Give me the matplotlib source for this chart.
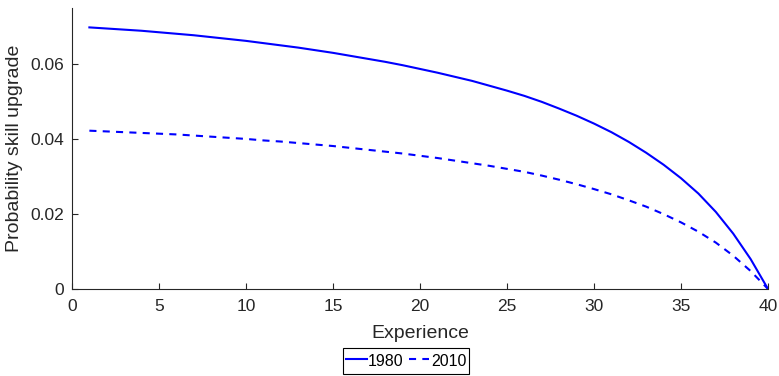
import matplotlib.pyplot as plt

plt.rcParams['font.family'] = ['Liberation Sans', 'DejaVu Sans']

experience = list(range(1, 41))
prob_1980 = [0.0699, 0.0696, 0.0693, 0.0690, 0.0686, 0.0682, 0.0678, 0.0673, 0.0668, 0.0663,
             0.0657, 0.0651, 0.0645, 0.0638, 0.0631, 0.0623, 0.0615, 0.0607, 0.0598, 0.0588,
             0.0578, 0.0567, 0.0556, 0.0543, 0.0530, 0.0516, 0.0500, 0.0482, 0.0463, 0.0442,
             0.0419, 0.0393, 0.0364, 0.0332, 0.0296, 0.0255, 0.0206, 0.0148, 0.0080, 0.0]
prob_2010 = [0.0423, 0.0421, 0.0419, 0.0417, 0.0415, 0.0413, 0.0410, 0.0407, 0.0404, 0.0401,
             0.0397, 0.0394, 0.0390, 0.0386, 0.0382, 0.0377, 0.0372, 0.0367, 0.0362, 0.0356,
             0.0350, 0.0343, 0.0336, 0.0329, 0.0321, 0.0313, 0.0303, 0.0292, 0.0280, 0.0267,
             0.0253, 0.0237, 0.0220, 0.0200, 0.0178, 0.0153, 0.0124, 0.0089, 0.0048, 0.0]

xticks = [0, 5, 10, 15, 20, 25, 30, 35, 40]
yticks = [0, 0.02, 0.04, 0.06]
ytick_labels = ['0', '0.02', '0.04', '0.06']

dark = '#262626'

fig = plt.figure(figsize=(7.79, 3.76), dpi=100)
ax = fig.add_axes([0.0924, 0.2314, 0.8935, 0.7465])

ax.plot(experience, prob_1980, color='#0000ff', lw=1.5, label='1980')
ax.plot(experience, prob_2010, color='#0000ff', lw=1.5, dashes=(3.4, 3.0), label='2010')

ax.set_xlim(0, 40)
ax.set_ylim(0, 0.075)
ax.set_xticks(xticks)
ax.set_yticks(yticks)
ax.set_yticklabels(ytick_labels)

for side in ['top', 'right']:
    ax.spines[side].set_visible(False)
for side in ['left', 'bottom']:
    ax.spines[side].set_color(dark)
    ax.spines[side].set_linewidth(0.8)

ax.tick_params(direction='in', length=4.5, width=0.8, color=dark,
               labelcolor=dark, labelsize=12.5)
ax.tick_params(axis='x', pad=7)
ax.tick_params(axis='y', pad=6)

ax.set_xlabel('Experience', fontsize=14, color=dark)
ax.set_ylabel('Probability skill upgrade', fontsize=14, color=dark)
ax.xaxis.set_label_coords(0.5, -0.128)
ax.yaxis.set_label_coords(-0.07, 0.5)

# legend sits under the axis label and runs past the bottom edge
leg = fig.legend(loc='upper center', bbox_to_anchor=(406 / 779, 28 / 376), ncol=2,
                 fontsize=11.5, handlelength=1.3, handleheight=1.5, handletextpad=0.1,
                 columnspacing=0.3, borderpad=0.2, borderaxespad=0,
                 fancybox=False, frameon=True)
leg.get_frame().set_edgecolor('black')
leg.get_frame().set_linewidth(0.8)
leg.get_frame().set_alpha(1)

fig.savefig('out.png', dpi=100)
